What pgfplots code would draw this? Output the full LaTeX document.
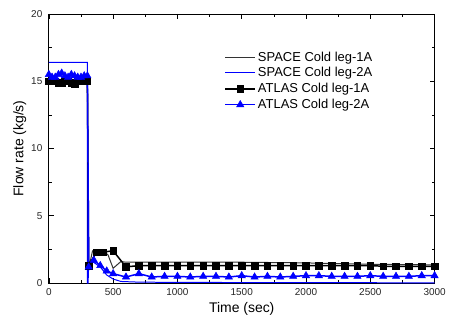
\documentclass[border=0pt]{standalone}
\usepackage{fontspec}
\setmainfont{Liberation Sans}
\usepackage{pgfplots}
\pgfplotsset{compat=1.18}
\definecolor{myblue}{RGB}{0,0,255}
\begin{document}
\begin{tikzpicture}
\begin{axis}[
  scale only axis,
  width=387pt, height=270pt,
  xmin=0, xmax=3000, ymin=0, ymax=20,
  xtick={0,500,...,3000}, ytick={0,5,...,20},
  minor x tick num=1, minor y tick num=1,
  tick align=inside,
  major tick length=5pt, minor tick length=3pt,
  tick style={black, line width=0.6pt},
  axis line style={line width=0.8pt},
  /pgf/number format/assume math mode=true,
  /pgf/number format/set thousands separator={},
  ticklabel style={font=\fontsize{10}{12}\selectfont, text=black!85},
  xticklabel style={yshift=-2pt},
  yticklabel style={xshift=-3pt},
  xlabel={Time (sec)}, ylabel={Flow rate (kg/s)},
  label style={font=\fontsize{14}{16}\selectfont},
  ylabel style={yshift=-2pt},
  legend style={draw=none, fill=none, at={(0.455,0.868)}, anchor=north west,
    font=\fontsize{13}{15}\selectfont, row sep=1pt, inner sep=0pt,
    /tikz/every even column/.append style={column sep=1pt}},
  legend cell align=left,
  legend image code/.code={\draw[mark repeat=2,mark phase=2] plot coordinates {(0pt,0pt)(15pt,0pt)(30pt,0pt)};},
]
% SPACE Cold leg-1A
\addplot[draw=black!80, line width=1pt, mark=none] coordinates {
(0,15.15)(50,15.2)(100,15.1)(150,15.2)(200,15.1)(250,15.2)(300,15.15)(305,2.0)(315,1.3)(340,2.4)(380,2.45)(420,2.4)(460,2.1)(500,1.1)(560,1.6)(600,1.55)(800,1.55)(1000,1.55)(1500,1.55)(2000,1.5)(2500,1.4)(3000,1.35)};
\addlegendentry{SPACE Cold leg-1A}
% SPACE Cold leg-2A
\addplot[draw=myblue, line width=1pt, mark=none] coordinates {
(0,16.4)(300,16.4)(300,0)(305,0)(310,1.3)(340,1.6)(400,1.2)(450,0.6)(500,0.3)(560,0.12)(700,0.07)(1000,0.05)(2000,0.03)(3000,0.02)};
\addlegendentry{SPACE Cold leg-2A}
% ATLAS Cold leg-1A
\addplot[black, line width=1.5pt, mark=square*, mark size=3.3pt, mark options={solid, line width=0.5pt}] coordinates {
(0,15.0)(25,15.1)(50,15.0)(75,14.9)(100,14.9)(125,15.0)(150,15.0)(175,14.9)(200,14.8)(225,15.0)(250,15.0)(275,15.1)(300,15.0)(310,1.3)(370,2.3)(420,2.3)(500,2.4)(600,1.2)(700,1.3)(800,1.3)(900,1.3)(1000,1.3)(1100,1.3)(1200,1.3)(1300,1.3)(1400,1.3)(1500,1.3)(1600,1.3)(1700,1.3)(1800,1.3)(1900,1.3)(2000,1.3)(2100,1.3)(2200,1.3)(2300,1.3)(2400,1.3)(2500,1.3)(2600,1.25)(2700,1.25)(2800,1.25)(2900,1.25)(3000,1.25)};
\addlegendentry{ATLAS Cold leg-1A}
% ATLAS Cold leg-2A
\addplot[myblue, line width=1.5pt, mark=triangle*, mark size=4.2pt, mark options={solid, line width=0.5pt}] coordinates {
(0,15.5)(25,15.3)(50,15.3)(75,15.5)(100,15.6)(125,15.4)(150,15.3)(175,15.5)(200,15.4)(225,15.3)(250,15.3)(275,15.4)(300,15.4)(310,1.2)(350,1.7)(400,1.3)(450,0.9)(500,0.7)(600,0.45)(700,0.7)(800,0.45)(900,0.5)(1000,0.5)(1100,0.45)(1200,0.5)(1300,0.5)(1400,0.45)(1500,0.55)(1600,0.45)(1700,0.5)(1800,0.45)(1900,0.5)(2000,0.55)(2100,0.55)(2200,0.5)(2300,0.5)(2400,0.5)(2500,0.55)(2600,0.5)(2700,0.5)(2800,0.5)(2900,0.55)(3000,0.55)};
\addlegendentry{ATLAS Cold leg-2A}
\end{axis}
\path (current axis.south west) ++(-49pt,-41pt);
\path (current axis.north east) ++(13pt,14pt);
\end{tikzpicture}
\end{document}
